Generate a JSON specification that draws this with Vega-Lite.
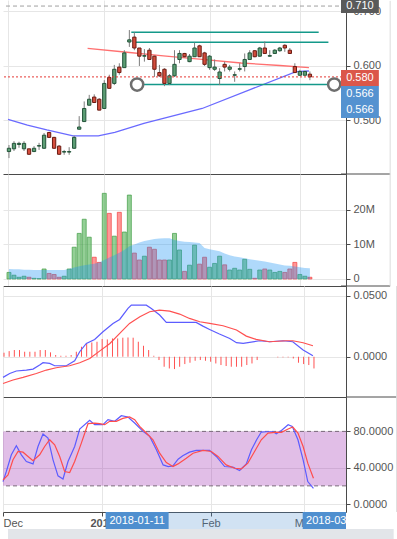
{
  "$schema": "https://vega.github.io/schema/vega-lite/v6.json",
  "padding": 0,
  "background": "white",
  "spacing": 0,
  "bounds": "flush",
  "resolve": {"scale": {"x": "independent", "color": "independent", "fill": "independent"}},
  "config": {
    "view": {"stroke": null},
    "font": "Liberation Sans",
    "axis": {"labelFont": "Liberation Sans", "labelFontSize": 11, "labelColor": "#555555", "domainColor": "#4a4a4a", "tickColor": "#4a4a4a", "gridColor": "#e6e6e6"}
  },
  "datasets": {
    "bars": [
      {"i":0,"o":0.443,"h":0.455,"l":0.431,"c":0.449,"v":1.9,"vma":2.9,"hist":0.0033},
      {"i":1,"o":0.448,"h":0.462,"l":0.444,"c":0.458,"v":1.1,"vma":2.8,"hist":0.0046},
      {"i":2,"o":0.456,"h":0.461,"l":0.450,"c":0.458,"v":0.5,"vma":2.8,"hist":0.0055},
      {"i":3,"o":0.448,"h":0.462,"l":0.444,"c":0.458,"v":0.8,"vma":2.7,"hist":0.0055},
      {"i":4,"o":0.448,"h":0.448,"l":0.437,"c":0.438,"v":0.5,"vma":2.7,"hist":0.0041},
      {"i":5,"o":0.443,"h":0.453,"l":0.442,"c":0.449,"v":0.2,"vma":2.6,"hist":0.0041},
      {"i":6,"o":0.453,"h":0.459,"l":0.446,"c":0.454,"v":0.1,"vma":2.6,"hist":0.0041},
      {"i":7,"o":0.449,"h":0.477,"l":0.448,"c":0.473,"v":2.9,"vma":2.6,"hist":0.0055},
      {"i":8,"o":0.478,"h":0.479,"l":0.468,"c":0.469,"v":1.6,"vma":2.6,"hist":0.0055},
      {"i":9,"o":0.469,"h":0.470,"l":0.448,"c":0.449,"v":1.3,"vma":2.6,"hist":0.0036},
      {"i":10,"o":0.453,"h":0.455,"l":0.437,"c":0.438,"v":0.5,"vma":2.6,"hist":0.0014},
      {"i":11,"o":0.442,"h":0.446,"l":0.437,"c":0.443,"v":0.8,"vma":2.6,"hist":0.0008},
      {"i":12,"o":0.442,"h":0.451,"l":0.437,"c":0.443,"v":2.9,"vma":2.9,"hist":0.0008},
      {"i":13,"o":0.449,"h":0.472,"l":0.448,"c":0.469,"v":9.2,"vma":3.3,"hist":0.0014},
      {"i":14,"o":0.484,"h":0.508,"l":0.483,"c":0.488,"v":13.2,"vma":3.7,"hist":0.0041},
      {"i":15,"o":0.498,"h":0.535,"l":0.498,"c":0.522,"v":17.3,"vma":4.0,"hist":0.0082},
      {"i":16,"o":0.528,"h":0.547,"l":0.528,"c":0.539,"v":12.1,"vma":4.2,"hist":0.0109},
      {"i":17,"o":0.543,"h":0.548,"l":0.532,"c":0.533,"v":6.3,"vma":4.4,"hist":0.0117},
      {"i":18,"o":0.539,"h":0.541,"l":0.519,"c":0.519,"v":4.8,"vma":4.8,"hist":0.0123},
      {"i":19,"o":0.522,"h":0.574,"l":0.522,"c":0.568,"v":24.8,"vma":5.5,"hist":0.0145},
      {"i":20,"o":0.579,"h":0.584,"l":0.559,"c":0.559,"v":19.0,"vma":6.2,"hist":0.0142},
      {"i":21,"o":0.568,"h":0.602,"l":0.565,"c":0.594,"v":12.4,"vma":6.9,"hist":0.0150},
      {"i":22,"o":0.598,"h":0.605,"l":0.584,"c":0.588,"v":19.3,"vma":7.6,"hist":0.0150},
      {"i":23,"o":0.597,"h":0.629,"l":0.597,"c":0.624,"v":13.6,"vma":8.4,"hist":0.0156},
      {"i":24,"o":0.644,"h":0.666,"l":0.635,"c":0.648,"v":24.3,"vma":9.5,"hist":0.0158},
      {"i":25,"o":0.653,"h":0.662,"l":0.629,"c":0.633,"v":7.5,"vma":10.0,"hist":0.0156},
      {"i":26,"o":0.633,"h":0.633,"l":0.600,"c":0.618,"v":5.5,"vma":10.6,"hist":0.0123},
      {"i":27,"o":0.618,"h":0.631,"l":0.608,"c":0.619,"v":6.6,"vma":11.0,"hist":0.0090},
      {"i":28,"o":0.629,"h":0.633,"l":0.611,"c":0.612,"v":9.2,"vma":11.3,"hist":0.0055},
      {"i":29,"o":0.618,"h":0.619,"l":0.580,"c":0.594,"v":8.6,"vma":11.6,"hist":0.0008},
      {"i":30,"o":0.588,"h":0.602,"l":0.580,"c":0.582,"v":5.5,"vma":11.7,"hist":-0.0027},
      {"i":31,"o":0.594,"h":0.596,"l":0.563,"c":0.568,"v":5.5,"vma":11.8,"hist":-0.0082},
      {"i":32,"o":0.568,"h":0.585,"l":0.565,"c":0.582,"v":5.5,"vma":11.8,"hist":-0.0096},
      {"i":33,"o":0.582,"h":0.629,"l":0.580,"c":0.603,"v":13.2,"vma":11.3,"hist":-0.0101},
      {"i":34,"o":0.612,"h":0.629,"l":0.605,"c":0.623,"v":8.4,"vma":11.0,"hist":-0.0082},
      {"i":35,"o":0.623,"h":0.624,"l":0.616,"c":0.617,"v":2.2,"vma":10.8,"hist":-0.0060},
      {"i":36,"o":0.608,"h":0.622,"l":0.607,"c":0.618,"v":4.0,"vma":10.7,"hist":-0.0049},
      {"i":37,"o":0.617,"h":0.643,"l":0.617,"c":0.633,"v":9.8,"vma":10.6,"hist":-0.0033},
      {"i":38,"o":0.637,"h":0.639,"l":0.617,"c":0.617,"v":4.3,"vma":10.4,"hist":-0.0027},
      {"i":39,"o":0.624,"h":0.626,"l":0.600,"c":0.603,"v":6.3,"vma":9.0,"hist":-0.0033},
      {"i":40,"o":0.597,"h":0.620,"l":0.593,"c":0.618,"v":3.4,"vma":8.6,"hist":-0.0041},
      {"i":41,"o":0.594,"h":0.612,"l":0.591,"c":0.598,"v":4.5,"vma":8.3,"hist":-0.0055},
      {"i":42,"o":0.577,"h":0.596,"l":0.565,"c":0.589,"v":6.6,"vma":8.0,"hist":-0.0068},
      {"i":43,"o":0.603,"h":0.608,"l":0.590,"c":0.598,"v":4.1,"vma":7.4,"hist":-0.0076},
      {"i":44,"o":0.594,"h":0.602,"l":0.590,"c":0.598,"v":2.6,"vma":6.9,"hist":-0.0082},
      {"i":45,"o":0.583,"h":0.590,"l":0.571,"c":0.584,"v":3.1,"vma":6.5,"hist":-0.0082},
      {"i":46,"o":0.594,"h":0.605,"l":0.590,"c":0.595,"v":2.6,"vma":6.3,"hist":-0.0082},
      {"i":47,"o":0.599,"h":0.623,"l":0.590,"c":0.612,"v":5.7,"vma":6.0,"hist":-0.0068},
      {"i":48,"o":0.612,"h":0.629,"l":0.611,"c":0.624,"v":2.8,"vma":5.7,"hist":-0.0055},
      {"i":49,"o":0.628,"h":0.629,"l":0.616,"c":0.617,"v":0.2,"vma":5.5,"hist":-0.0027},
      {"i":50,"o":0.618,"h":0.635,"l":0.617,"c":0.633,"v":2.6,"vma":5.3,"hist":0},
      {"i":51,"o":0.633,"h":0.645,"l":0.623,"c":0.623,"v":2.9,"vma":5.1,"hist":0},
      {"i":52,"o":0.618,"h":0.629,"l":0.617,"c":0.619,"v":2.6,"vma":4.8,"hist":0},
      {"i":53,"o":0.623,"h":0.631,"l":0.622,"c":0.629,"v":1.9,"vma":4.5,"hist":-0.0005},
      {"i":54,"o":0.628,"h":0.635,"l":0.626,"c":0.633,"v":2.2,"vma":4.2,"hist":-0.0005},
      {"i":55,"o":0.638,"h":0.640,"l":0.626,"c":0.633,"v":1.9,"vma":3.9,"hist":-0.0005},
      {"i":56,"o":0.629,"h":0.633,"l":0.622,"c":0.623,"v":2.9,"vma":3.8,"hist":-0.0014},
      {"i":57,"o":0.599,"h":0.605,"l":0.587,"c":0.588,"v":4.8,"vma":3.6,"hist":-0.0049},
      {"i":58,"o":0.583,"h":0.593,"l":0.582,"c":0.590,"v":1.3,"vma":3.4,"hist":-0.0060},
      {"i":59,"o":0.583,"h":0.591,"l":0.583,"c":0.590,"v":0.8,"vma":3.2,"hist":-0.0068},
      {"i":60,"o":0.585,"h":0.590,"l":0.574,"c":0.580,"v":0.5,"vma":3.1,"hist":-0.0096}
    ],
    "ma": [
      {"i":15.68,"s":"ma_a","v":0.6325},{"i":23.04,"s":"ma_a","v":0.6257},{"i":30.78,"s":"ma_a","v":0.6184},{"i":38.52,"s":"ma_a","v":0.6123},{"i":46.27,"s":"ma_a","v":0.6055},{"i":54.01,"s":"ma_a","v":0.6009},{"i":59.81,"s":"ma_a","v":0.5969},
      {"i":-0.19,"s":"ma_b","v":0.5022},{"i":3.68,"s":"ma_b","v":0.4917},{"i":7.55,"s":"ma_b","v":0.4826},{"i":12.78,"s":"ma_b","v":0.4716},{"i":17.81,"s":"ma_b","v":0.4716},{"i":21.1,"s":"ma_b","v":0.4783},{"i":26.9,"s":"ma_b","v":0.4949},{"i":38.52,"s":"ma_b","v":0.522},{"i":48.2,"s":"ma_b","v":0.5571},{"i":57.24,"s":"ma_b","v":0.5895},{"i":59.81,"s":"ma_b","v":0.5908}
    ],
    "levels": [
      {"x1":24.39,"x2":61.75,"y":0.6618},
      {"x1":24.78,"x2":63.69,"y":0.6435},
      {"x1":25.55,"x2":64.85,"y":0.566}
    ],
    "handles": [
      {"i":25.55,"y":0.566,"label":"2018-01-11"},
      {"i":64.85,"y":0.566,"label":"2018-03-12"}
    ],
    "tags": [
      {"label":"0.710","kind":"high","y1":0.7211,"y2":0.6972,"ty":0.7092},
      {"label":"0.580","kind":"last","y1":0.5927,"y2":0.5633,"ty":0.578},
      {"label":"0.566","kind":"line","y1":0.5633,"y2":0.534,"ty":0.5486},
      {"label":"0.566","kind":"line","y1":0.534,"y2":0.5046,"ty":0.5193}
    ],
    "macd": [
      {"i":-0.19,"s":"MACD","v":-0.0169},{"i":1.1,"s":"MACD","v":-0.0137},{"i":2.39,"s":"MACD","v":-0.0117},{"i":4.33,"s":"MACD","v":-0.0109},{"i":5.62,"s":"MACD","v":-0.0101},{"i":6.9,"s":"MACD","v":-0.0068},{"i":7.55,"s":"MACD","v":-0.0049},{"i":8.84,"s":"MACD","v":-0.0055},{"i":9.81,"s":"MACD","v":-0.0074},{"i":12.07,"s":"MACD","v":-0.0074},{"i":13.68,"s":"MACD","v":-0.0033},{"i":14.65,"s":"MACD","v":0.0041},{"i":15.94,"s":"MACD","v":0.0109},{"i":17.55,"s":"MACD","v":0.0142},{"i":19.16,"s":"MACD","v":0.0205},{"i":21.1,"s":"MACD","v":0.0273},{"i":22.39,"s":"MACD","v":0.0306},{"i":24.0,"s":"MACD","v":0.0396},{"i":24.65,"s":"MACD","v":0.0423},{"i":27.55,"s":"MACD","v":0.0423},{"i":28.52,"s":"MACD","v":0.0396},{"i":30.13,"s":"MACD","v":0.0342},{"i":31.42,"s":"MACD","v":0.0281},{"i":37.2,"s":"MACD","v":0.0281},{"i":38.5,"s":"MACD","v":0.0251},{"i":39.8,"s":"MACD","v":0.0224},{"i":41.7,"s":"MACD","v":0.0186},{"i":43.7,"s":"MACD","v":0.015},{"i":45.0,"s":"MACD","v":0.0115},{"i":46.3,"s":"MACD","v":0.0109},{"i":49.5,"s":"MACD","v":0.0131},{"i":51.4,"s":"MACD","v":0.0123},{"i":54.0,"s":"MACD","v":0.0131},{"i":55.9,"s":"MACD","v":0.0123},{"i":57.9,"s":"MACD","v":0.0055},{"i":59.8,"s":"MACD","v":0.0008},
      {"i":-0.19,"s":"Signal","v":-0.0219},{"i":1.74,"s":"Signal","v":-0.0191},{"i":3.68,"s":"Signal","v":-0.0169},{"i":6.26,"s":"Signal","v":-0.0137},{"i":8.2,"s":"Signal","v":-0.0109},{"i":10.1,"s":"Signal","v":-0.009},{"i":12.7,"s":"Signal","v":-0.0074},{"i":14.65,"s":"Signal","v":-0.0049},{"i":16.6,"s":"Signal","v":-0.0014},{"i":18.5,"s":"Signal","v":0.0046},{"i":20.5,"s":"Signal","v":0.0109},{"i":22.4,"s":"Signal","v":0.0191},{"i":24.3,"s":"Signal","v":0.0273},{"i":26.3,"s":"Signal","v":0.0328},{"i":28.2,"s":"Signal","v":0.0369},{"i":30.1,"s":"Signal","v":0.0382},{"i":32.07,"s":"Signal","v":0.0374},{"i":34.0,"s":"Signal","v":0.035},{"i":35.9,"s":"Signal","v":0.0314},{"i":37.9,"s":"Signal","v":0.0287},{"i":39.8,"s":"Signal","v":0.0273},{"i":42.4,"s":"Signal","v":0.0254},{"i":45.0,"s":"Signal","v":0.0219},{"i":46.9,"s":"Signal","v":0.0169},{"i":48.8,"s":"Signal","v":0.0142},{"i":51.4,"s":"Signal","v":0.0123},{"i":54.65,"s":"Signal","v":0.0131},{"i":55.9,"s":"Signal","v":0.0131},{"i":57.9,"s":"Signal","v":0.0115},{"i":59.8,"s":"Signal","v":0.009}
    ],
    "stoch": [
      {"i":-0.19,"s":"K","v":24.7},{"i":0.45,"s":"K","v":35.8},{"i":1.42,"s":"K","v":54.2},{"i":2.39,"s":"K","v":64.1},{"i":3.36,"s":"K","v":54.2},{"i":4.33,"s":"K","v":46.8},{"i":5.62,"s":"K","v":44.2},{"i":6.58,"s":"K","v":63.4},{"i":7.55,"s":"K","v":77.1},{"i":8.52,"s":"K","v":72.6},{"i":9.49,"s":"K","v":48.7},{"i":10.45,"s":"K","v":31.0},{"i":11.42,"s":"K","v":27.6},{"i":12.39,"s":"K","v":46.8},{"i":13.68,"s":"K","v":63.4},{"i":14.65,"s":"K","v":82.6},{"i":16.58,"s":"K","v":92.2},{"i":17.55,"s":"K","v":87.4},{"i":19.16,"s":"K","v":87.4},{"i":20.13,"s":"K","v":92.9},{"i":21.42,"s":"K","v":91.1},{"i":22.71,"s":"K","v":97.3},{"i":24.0,"s":"K","v":95.9},{"i":25.29,"s":"K","v":89.2},{"i":26.9,"s":"K","v":80.0},{"i":28.2,"s":"K","v":74.5},{"i":29.5,"s":"K","v":59.7},{"i":30.8,"s":"K","v":43.1},{"i":31.8,"s":"K","v":41.3},{"i":32.7,"s":"K","v":42.0},{"i":33.7,"s":"K","v":49.4},{"i":34.6,"s":"K","v":53.1},{"i":35.9,"s":"K","v":57.1},{"i":37.2,"s":"K","v":59.0},{"i":38.5,"s":"K","v":59.0},{"i":39.8,"s":"K","v":59.0},{"i":41.1,"s":"K","v":52.4},{"i":42.7,"s":"K","v":41.3},{"i":44.3,"s":"K","v":40.6},{"i":45.6,"s":"K","v":36.9},{"i":46.9,"s":"K","v":44.2},{"i":47.9,"s":"K","v":59.7},{"i":48.9,"s":"K","v":70.8},{"i":49.8,"s":"K","v":79.3},{"i":50.8,"s":"K","v":79.6},{"i":52.1,"s":"K","v":79.6},{"i":52.7,"s":"K","v":77.4},{"i":53.7,"s":"K","v":81.1},{"i":55.0,"s":"K","v":87.4},{"i":55.8,"s":"K","v":85.5},{"i":56.9,"s":"K","v":70.8},{"i":57.9,"s":"K","v":48.7},{"i":58.8,"s":"K","v":24.7},{"i":59.9,"s":"K","v":17.3},
      {"i":-0.19,"s":"D","v":26.5},{"i":0.78,"s":"D","v":32.1},{"i":1.74,"s":"D","v":48.7},{"i":2.71,"s":"D","v":57.9},{"i":3.68,"s":"D","v":57.1},{"i":4.65,"s":"D","v":52.4},{"i":5.62,"s":"D","v":47.6},{"i":6.9,"s":"D","v":54.2},{"i":7.87,"s":"D","v":63.4},{"i":8.84,"s":"D","v":70.8},{"i":9.81,"s":"D","v":65.3},{"i":10.78,"s":"D","v":52.4},{"i":11.74,"s":"D","v":35.8},{"i":12.71,"s":"D","v":34.7},{"i":13.68,"s":"D","v":46.8},{"i":14.97,"s":"D","v":67.1},{"i":16.26,"s":"D","v":88.5},{"i":17.55,"s":"D","v":89.2},{"i":18.52,"s":"D","v":88.5},{"i":19.49,"s":"D","v":87.4},{"i":20.45,"s":"D","v":91.1},{"i":21.74,"s":"D","v":91.1},{"i":23.0,"s":"D","v":94.4},{"i":24.3,"s":"D","v":95.9},{"i":25.3,"s":"D","v":92.9},{"i":26.26,"s":"D","v":85.5},{"i":27.55,"s":"D","v":78.2},{"i":28.84,"s":"D","v":70.8},{"i":30.13,"s":"D","v":56.0},{"i":31.42,"s":"D","v":45.7},{"i":32.71,"s":"D","v":41.3},{"i":33.68,"s":"D","v":44.2},{"i":35.29,"s":"D","v":50.5},{"i":36.58,"s":"D","v":56.0},{"i":38.52,"s":"D","v":59.0},{"i":40.13,"s":"D","v":57.9},{"i":41.42,"s":"D","v":52.4},{"i":43.0,"s":"D","v":43.1},{"i":44.65,"s":"D","v":39.4},{"i":45.94,"s":"D","v":38.7},{"i":47.2,"s":"D","v":45.0},{"i":48.5,"s":"D","v":57.9},{"i":49.8,"s":"D","v":70.8},{"i":51.1,"s":"D","v":78.2},{"i":52.4,"s":"D","v":78.9},{"i":53.7,"s":"D","v":78.9},{"i":55.0,"s":"D","v":82.6},{"i":55.9,"s":"D","v":84.8},{"i":56.9,"s":"D","v":78.2},{"i":57.9,"s":"D","v":63.4},{"i":58.8,"s":"D","v":45.0},{"i":59.9,"s":"D","v":28.4}
    ],
    "range": [{"a":25.55,"b":64.85}]
  },
  "vconcat": [
    {
      "width": 343, "height": 174,
      "layer": [
        {
          "data": {"values": [{}]},
          "mark": {"type": "rule", "color": "#a0a0a0", "strokeDash": [4, 3], "strokeWidth": 1},
          "encoding": {"y": {"datum": 0.71, "type": "quantitative", "scale": {"domain": [0.4018, 0.7211], "nice": false, "zero": false}, "title": null,
            "axis": {"orient": "right", "values": [0.5, 0.6, 0.7], "format": ".3f", "tickSize": 4, "labelPadding": 3, "grid": true, "domain": true, "title": null}}}
        },
        {
          "data": {"values": [{}]},
          "mark": {"type": "rule", "color": "#4a4a4a", "strokeWidth": 1, "clip": false},
          "encoding": {
            "x": {"datum": 66.2, "type": "quantitative", "scale": {"domain": [-0.194, 66.2], "nice": false, "zero": false}, "title": null},
            "x2": {"datum": 76.0},
            "y": {"datum": 0.4018, "type": "quantitative", "scale": {"domain": [0.4018, 0.7211], "nice": false, "zero": false}, "title": null}
          }
        },
        {
          "data": {"values": [{}]},
          "mark": {"type": "rule", "color": "#dcdcdc", "strokeWidth": 1, "clip": false},
          "encoding": {
            "x": {"datum": 76.0, "type": "quantitative", "scale": {"domain": [-0.194, 66.2], "nice": false, "zero": false}, "title": null},
            "y": {"datum": 0.7195, "type": "quantitative", "scale": {"domain": [0.4018, 0.7211], "nice": false, "zero": false}, "title": null},
            "y2": {"datum": 0.4018}
          }
        },
        {
          "data": {"name": "ma"},
          "mark": {"type": "line", "strokeWidth": 1.3},
          "encoding": {
            "x": {"field": "i", "type": "quantitative", "scale": {"domain": [-0.194, 66.2], "nice": false, "zero": false}, "title": null},
            "y": {"field": "v", "type": "quantitative", "scale": {"domain": [0.4018, 0.7211], "nice": false, "zero": false}, "title": null},
            "color": {"field": "s", "type": "nominal", "scale": {"domain": ["ma_a", "ma_b"], "range": ["#ff7070", "#6a6aff"]}, "legend": null}
          }
        },
        {
          "data": {"name": "levels"},
          "mark": {"type": "rule", "color": "#14998a", "strokeWidth": 1.5},
          "encoding": {
            "x": {"field": "x1", "type": "quantitative", "scale": {"domain": [-0.194, 66.2], "nice": false, "zero": false}, "title": null},
            "x2": {"field": "x2"},
            "y": {"field": "y", "type": "quantitative", "scale": {"domain": [0.4018, 0.7211], "nice": false, "zero": false}, "title": null}
          }
        },
        {
          "data": {"name": "bars"},
          "mark": {"type": "rule", "color": "#7d7d7d", "strokeWidth": 1},
          "encoding": {
            "x": {"field": "i", "type": "quantitative", "scale": {"domain": [-0.194, 66.2], "nice": false, "zero": false}, "title": null,
              "axis": {"values": [-0.194, 19, 40, 58], "labels": false, "ticks": false, "domain": true, "grid": true, "title": null}},
            "y": {"field": "l", "type": "quantitative", "scale": {"domain": [0.4018, 0.7211], "nice": false, "zero": false}, "title": null},
            "y2": {"field": "h"}
          }
        },
        {
          "data": {"name": "bars"},
          "mark": {"type": "bar", "width": 3.3, "strokeWidth": 1},
          "encoding": {
            "x": {"field": "i", "type": "quantitative", "scale": {"domain": [-0.194, 66.2], "nice": false, "zero": false}, "title": null},
            "y": {"field": "o", "type": "quantitative", "scale": {"domain": [0.4018, 0.7211], "nice": false, "zero": false}, "title": null, "stack": null},
            "y2": {"field": "c"},
            "fill": {"condition": {"test": "datum.c >= datum.o", "value": "#5c9e74"}, "value": "#d44d3c"},
            "stroke": {"condition": {"test": "datum.c >= datum.o", "value": "#24543a"}, "value": "#6b1c13"}
          }
        },
        {
          "data": {"values": [{}]},
          "mark": {"type": "rule", "color": "#e53935", "strokeDash": [2, 2], "strokeWidth": 1},
          "encoding": {"y": {"datum": 0.58, "type": "quantitative", "scale": {"domain": [0.4018, 0.7211], "nice": false, "zero": false}, "title": null}}
        },
        {
          "data": {"name": "handles"},
          "mark": {"type": "point", "shape": "circle", "filled": false, "fill": "white", "fillOpacity": 1, "stroke": "#6e6e6e", "strokeWidth": 2.5, "size": 150, "opacity": 1},
          "encoding": {
            "x": {"field": "i", "type": "quantitative", "scale": {"domain": [-0.194, 66.2], "nice": false, "zero": false}, "title": null},
            "y": {"field": "y", "type": "quantitative", "scale": {"domain": [0.4018, 0.7211], "nice": false, "zero": false}, "title": null}
          }
        },
        {
          "data": {"name": "tags"},
          "mark": {"type": "rect", "clip": false},
          "encoding": {
            "x": {"datum": 66.2, "type": "quantitative", "scale": {"domain": [-0.194, 66.2], "nice": false, "zero": false}, "title": null},
            "x2": {"datum": 73.75},
            "y": {"field": "y1", "type": "quantitative", "scale": {"domain": [0.4018, 0.7211], "nice": false, "zero": false}, "title": null},
            "y2": {"field": "y2"},
            "fill": {"field": "kind", "type": "nominal", "scale": {"domain": ["high", "last", "line"], "range": ["#5a5a5a", "#db5749", "#5492d0"]}, "legend": null}
          }
        },
        {
          "data": {"name": "tags"},
          "mark": {"type": "text", "clip": false, "color": "white", "fontSize": 11, "align": "center", "baseline": "middle", "font": "Liberation Sans"},
          "encoding": {
            "x": {"datum": 69.98, "type": "quantitative", "scale": {"domain": [-0.194, 66.2], "nice": false, "zero": false}, "title": null},
            "y": {"field": "ty", "type": "quantitative", "scale": {"domain": [0.4018, 0.7211], "nice": false, "zero": false}, "title": null},
            "text": {"field": "label"}
          }
        }
      ]
    },
    {
      "width": 343, "height": 112,
      "layer": [
        {
          "data": {"name": "bars"},
          "mark": {"type": "bar", "width": 4, "strokeWidth": 0.8, "fillOpacity": 0.6, "strokeOpacity": 0.85},
          "encoding": {
            "x": {"field": "i", "type": "quantitative", "scale": {"domain": [-0.194, 66.2], "nice": false, "zero": false}, "title": null,
              "axis": {"values": [-0.194, 19, 40, 58], "labels": false, "ticks": false, "domain": true, "grid": true, "title": null}},
            "y": {"field": "v", "type": "quantitative", "stack": null, "scale": {"domain": [-2.03, 30.4], "nice": false, "zero": false}, "title": null,
              "axis": {"orient": "right", "values": [0, 10, 20], "labelExpr": "datum.value == 0 ? '0' : datum.value + 'M'", "tickSize": 4, "labelPadding": 3, "grid": true, "domain": true, "title": null}},
            "y2": {"datum": 0},
            "fill": {"condition": {"test": "datum.c >= datum.o", "value": "#4caf50"}, "value": "#ff5252"},
            "stroke": {"condition": {"test": "datum.c >= datum.o", "value": "#3d9a41"}, "value": "#f03c3c"}
          }
        },
        {
          "data": {"name": "bars"},
          "mark": {"type": "area", "color": "#2196f3", "opacity": 0.36},
          "encoding": {
            "x": {"field": "i", "type": "quantitative", "scale": {"domain": [-0.194, 66.2], "nice": false, "zero": false}, "title": null},
            "y": {"field": "vma", "type": "quantitative", "stack": null, "scale": {"domain": [-2.03, 30.4], "nice": false, "zero": false}, "title": null},
            "y2": {"datum": 0}
          }
        },
        {
          "data": {"values": [{}]},
          "mark": {"type": "rule", "color": "#4a4a4a", "strokeWidth": 1, "clip": false},
          "encoding": {
            "x": {"datum": 66.2, "type": "quantitative", "scale": {"domain": [-0.194, 66.2], "nice": false, "zero": false}, "title": null},
            "x2": {"datum": 76.0},
            "y": {"datum": -2.03, "type": "quantitative", "scale": {"domain": [-2.03, 30.4], "nice": false, "zero": false}, "title": null}
          }
        },
        {
          "data": {"values": [{}]},
          "mark": {"type": "rule", "color": "#dcdcdc", "strokeWidth": 1, "clip": false},
          "encoding": {"x": {"datum": 76.0, "type": "quantitative", "scale": {"domain": [-0.194, 66.2], "nice": false, "zero": false}, "title": null}}
        }
      ]
    },
    {
      "width": 343, "height": 111,
      "layer": [
        {
          "data": {"name": "bars"},
          "mark": {"type": "rule", "color": "#ff5252", "strokeWidth": 1},
          "encoding": {
            "x": {"field": "i", "type": "quantitative", "scale": {"domain": [-0.194, 66.2], "nice": false, "zero": false}, "title": null,
              "axis": {"values": [-0.194, 19, 40, 58], "labels": false, "ticks": false, "domain": true, "grid": true, "title": null}},
            "y": {"field": "hist", "type": "quantitative", "scale": {"domain": [-0.033, 0.058], "nice": false, "zero": false}, "title": null,
              "axis": {"orient": "right", "values": [0, 0.05], "format": ".4f", "tickSize": 4, "labelPadding": 3, "grid": true, "domain": true, "title": null}},
            "y2": {"datum": 0}
          }
        },
        {
          "data": {"name": "macd"},
          "mark": {"type": "line", "strokeWidth": 1.2},
          "encoding": {
            "x": {"field": "i", "type": "quantitative", "scale": {"domain": [-0.194, 66.2], "nice": false, "zero": false}, "title": null},
            "y": {"field": "v", "type": "quantitative", "scale": {"domain": [-0.033, 0.058], "nice": false, "zero": false}, "title": null},
            "color": {"field": "s", "type": "nominal", "scale": {"domain": ["MACD", "Signal"], "range": ["#5c5cff", "#ff5050"]}, "legend": null}
          }
        },
        {
          "data": {"values": [{}]},
          "mark": {"type": "rule", "color": "#4a4a4a", "strokeWidth": 1, "clip": false},
          "encoding": {
            "x": {"datum": 66.2, "type": "quantitative", "scale": {"domain": [-0.194, 66.2], "nice": false, "zero": false}, "title": null},
            "x2": {"datum": 76.0},
            "y": {"datum": -0.033, "type": "quantitative", "scale": {"domain": [-0.033, 0.058], "nice": false, "zero": false}, "title": null}
          }
        },
        {
          "data": {"values": [{}]},
          "mark": {"type": "rule", "color": "#dcdcdc", "strokeWidth": 1, "clip": false},
          "encoding": {"x": {"datum": 76.0, "type": "quantitative", "scale": {"domain": [-0.194, 66.2], "nice": false, "zero": false}, "title": null}}
        }
      ]
    },
    {
      "width": 343, "height": 115,
      "layer": [
        {
          "data": {"values": [{}]},
          "mark": {"type": "rect", "color": "#9c27b0", "opacity": 0.3},
          "encoding": {
            "x": {"datum": -0.194, "type": "quantitative", "scale": {"domain": [-0.194, 66.2], "nice": false, "zero": false}, "title": null,
              "axis": {"values": [-0.194, 19, 40, 58], "labelExpr": "datum.value < 0 ? 'Dec' : datum.value == 19 ? '2018' : datum.value == 40 ? 'Feb' : 'Mar'",
                "labelFontWeight": {"condition": {"test": "datum.value == 19", "value": "bold"}, "value": "normal"},
                "labelFlush": 1, "tickSize": 4, "labelPadding": 1, "domain": true, "grid": true, "title": null}},
            "x2": {"datum": 66.2},
            "y": {"datum": 20, "type": "quantitative", "scale": {"domain": [-8.8, 117.9], "nice": false, "zero": false}, "title": null,
              "axis": {"orient": "right", "values": [0, 40, 80], "format": ".4f", "tickSize": 4, "labelPadding": 3, "grid": true, "domain": true, "title": null}},
            "y2": {"datum": 80}
          }
        },
        {
          "data": {"values": [{"lvl": 20}, {"lvl": 80}]},
          "mark": {"type": "rule", "color": "#7a6a7a", "strokeDash": [4, 3], "strokeWidth": 1},
          "encoding": {"y": {"field": "lvl", "type": "quantitative", "scale": {"domain": [-8.8, 117.9], "nice": false, "zero": false}, "title": null}}
        },
        {
          "data": {"name": "stoch"},
          "mark": {"type": "line", "strokeWidth": 1.2},
          "encoding": {
            "x": {"field": "i", "type": "quantitative", "scale": {"domain": [-0.194, 66.2], "nice": false, "zero": false}, "title": null},
            "y": {"field": "v", "type": "quantitative", "scale": {"domain": [-8.8, 117.9], "nice": false, "zero": false}, "title": null},
            "color": {"field": "s", "type": "nominal", "scale": {"domain": ["K", "D"], "range": ["#5c5cff", "#ff4d4d"]}, "legend": null}
          }
        },
        {
          "data": {"values": [{}]},
          "mark": {"type": "rule", "color": "#dcdcdc", "strokeWidth": 1, "clip": false},
          "encoding": {"x": {"datum": 76.0, "type": "quantitative", "scale": {"domain": [-0.194, 66.2], "nice": false, "zero": false}, "title": null}}
        }
      ]
    },
    {
      "width": 343, "height": 17,
      "layer": [
        {
          "data": {"values": [{}]},
          "mark": {"type": "rect", "color": "#e2e5e9", "clip": false},
          "encoding": {
            "x": {"datum": -0.194, "type": "quantitative", "scale": {"domain": [-0.194, 66.2], "nice": false, "zero": false}, "axis": null},
            "x2": {"datum": 76.7},
            "y": {"datum": 0, "type": "quantitative", "scale": {"domain": [0, 1], "nice": false, "zero": false}, "axis": null},
            "y2": {"datum": -0.7}
          }
        },
        {
          "data": {"name": "range"},
          "mark": {"type": "rect", "color": "#4f8fcf", "opacity": 0.26, "clip": true},
          "encoding": {
            "x": {"field": "a", "type": "quantitative", "scale": {"domain": [-0.194, 66.2], "nice": false, "zero": false}, "axis": null},
            "x2": {"field": "b"},
            "y": {"datum": 0, "type": "quantitative", "scale": {"domain": [0, 1], "nice": false, "zero": false}, "axis": null},
            "y2": {"datum": 1}
          }
        },
        {
          "data": {"name": "handles"},
          "mark": {"type": "bar", "width": 63, "color": "#4f8fcf", "clip": true},
          "encoding": {
            "x": {"field": "i", "type": "quantitative", "scale": {"domain": [-0.194, 66.2], "nice": false, "zero": false}, "axis": null},
            "y": {"datum": 0, "type": "quantitative", "scale": {"domain": [0, 1], "nice": false, "zero": false}, "axis": null},
            "y2": {"datum": 1}
          }
        },
        {
          "data": {"name": "handles"},
          "mark": {"type": "text", "color": "white", "fontSize": 11, "align": "center", "baseline": "middle", "clip": true, "font": "Liberation Sans"},
          "encoding": {
            "x": {"field": "i", "type": "quantitative", "scale": {"domain": [-0.194, 66.2], "nice": false, "zero": false}, "axis": null},
            "y": {"datum": 0.5, "type": "quantitative", "scale": {"domain": [0, 1], "nice": false, "zero": false}, "axis": null},
            "text": {"field": "label"}
          }
        }
      ]
    }
  ]
}
